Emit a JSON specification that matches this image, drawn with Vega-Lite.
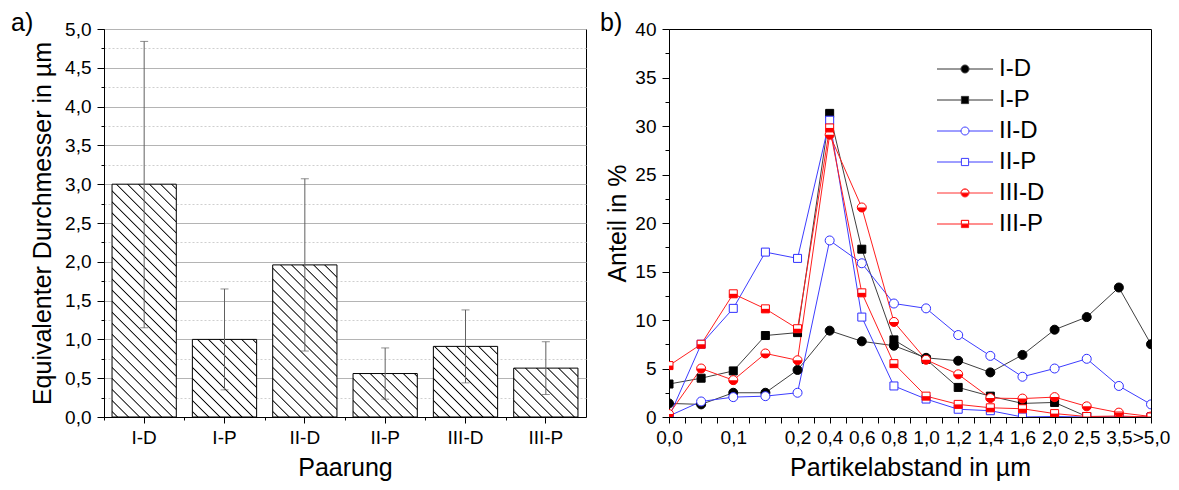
{
"$schema":"https://vega.github.io/schema/vega-lite/v6.json",
"background":"white",
"padding":{"left":10,"top":10,"right":5,"bottom":5},
"config":{
 "font":"Liberation Sans",
 "view":{"stroke":"#000","strokeWidth":1},
 "axis":{"labelFont":"Liberation Sans","titleFont":"Liberation Sans","labelFontSize":19,"titleFontSize":25,"titleFontWeight":"normal","labelColor":"#000","titleColor":"#000","domainColor":"#000","tickColor":"#000","domainWidth":1,"tickWidth":1},
 "title":{"font":"Liberation Sans","fontSize":25,"fontWeight":"normal","color":"#000"}
},
"datasets":{
 "bars":[
  {"Paarung":"I-D","mean":3.0,"lo":1.15,"hi":4.84},
  {"Paarung":"I-P","mean":1.0,"lo":0.35,"hi":1.65},
  {"Paarung":"II-D","mean":1.96,"lo":0.85,"hi":3.07},
  {"Paarung":"II-P","mean":0.56,"lo":0.23,"hi":0.89},
  {"Paarung":"III-D","mean":0.91,"lo":0.44,"hi":1.38},
  {"Paarung":"III-P","mean":0.63,"lo":0.29,"hi":0.97}
 ],
 "dist":[
  {"s":"I-D","i":0,"v":1.4},{"s":"I-D","i":1,"v":1.3},{"s":"I-D","i":2,"v":2.5},{"s":"I-D","i":3,"v":2.5},{"s":"I-D","i":4,"v":4.85},{"s":"I-D","i":5,"v":8.9},{"s":"I-D","i":6,"v":7.8},{"s":"I-D","i":7,"v":7.35},{"s":"I-D","i":8,"v":6.1},{"s":"I-D","i":9,"v":5.8},{"s":"I-D","i":10,"v":4.6},{"s":"I-D","i":11,"v":6.4},{"s":"I-D","i":12,"v":9.0},{"s":"I-D","i":13,"v":10.3},{"s":"I-D","i":14,"v":13.35},{"s":"I-D","i":15,"v":7.5},
  {"s":"I-P","i":0,"v":3.4},{"s":"I-P","i":1,"v":4.0},{"s":"I-P","i":2,"v":4.75},{"s":"I-P","i":3,"v":8.4},{"s":"I-P","i":4,"v":8.7},{"s":"I-P","i":5,"v":31.3},{"s":"I-P","i":6,"v":17.3},{"s":"I-P","i":7,"v":7.95},{"s":"I-P","i":8,"v":5.95},{"s":"I-P","i":9,"v":3.05},{"s":"I-P","i":10,"v":2.15},{"s":"I-P","i":11,"v":1.4},{"s":"I-P","i":12,"v":1.5},{"s":"I-P","i":13,"v":0.05},{"s":"I-P","i":14,"v":0},{"s":"I-P","i":15,"v":0},
  {"s":"II-D","i":0,"v":0.1},{"s":"II-D","i":1,"v":1.6},{"s":"II-D","i":2,"v":2.05},{"s":"II-D","i":3,"v":2.15},{"s":"II-D","i":4,"v":2.5},{"s":"II-D","i":5,"v":18.2},{"s":"II-D","i":6,"v":15.85},{"s":"II-D","i":7,"v":11.7},{"s":"II-D","i":8,"v":11.2},{"s":"II-D","i":9,"v":8.45},{"s":"II-D","i":10,"v":6.3},{"s":"II-D","i":11,"v":4.15},{"s":"II-D","i":12,"v":5.0},{"s":"II-D","i":13,"v":6.0},{"s":"II-D","i":14,"v":3.2},{"s":"II-D","i":15,"v":1.3},
  {"s":"II-P","i":0,"v":0},{"s":"II-P","i":1,"v":7.5},{"s":"II-P","i":2,"v":11.2},{"s":"II-P","i":3,"v":17.0},{"s":"II-P","i":4,"v":16.35},{"s":"II-P","i":5,"v":30.6},{"s":"II-P","i":6,"v":10.3},{"s":"II-P","i":7,"v":3.2},{"s":"II-P","i":8,"v":1.85},{"s":"II-P","i":9,"v":0.8},{"s":"II-P","i":10,"v":0.65},{"s":"II-P","i":11,"v":0},{"s":"II-P","i":12,"v":0.05},{"s":"II-P","i":13,"v":0},{"s":"II-P","i":14,"v":0},{"s":"II-P","i":15,"v":0},
  {"s":"III-D","i":0,"v":0.3},{"s":"III-D","i":1,"v":5.0},{"s":"III-D","i":2,"v":3.8},{"s":"III-D","i":3,"v":6.55},{"s":"III-D","i":4,"v":5.85},{"s":"III-D","i":5,"v":29.1},{"s":"III-D","i":6,"v":21.6},{"s":"III-D","i":7,"v":9.8},{"s":"III-D","i":8,"v":5.9},{"s":"III-D","i":9,"v":4.4},{"s":"III-D","i":10,"v":1.95},{"s":"III-D","i":11,"v":1.9},{"s":"III-D","i":12,"v":2.05},{"s":"III-D","i":13,"v":1.1},{"s":"III-D","i":14,"v":0.45},{"s":"III-D","i":15,"v":0.05},
  {"s":"III-P","i":0,"v":5.3},{"s":"III-P","i":1,"v":7.5},{"s":"III-P","i":2,"v":12.7},{"s":"III-P","i":3,"v":11.15},{"s":"III-P","i":4,"v":9.1},{"s":"III-P","i":5,"v":29.8},{"s":"III-P","i":6,"v":12.8},{"s":"III-P","i":7,"v":5.5},{"s":"III-P","i":8,"v":2.15},{"s":"III-P","i":9,"v":1.3},{"s":"III-P","i":10,"v":0.95},{"s":"III-P","i":11,"v":0.85},{"s":"III-P","i":12,"v":0.35},{"s":"III-P","i":13,"v":0.05},{"s":"III-P","i":14,"v":0.1},{"s":"III-P","i":15,"v":0}
 ]
},
"spacing":83,
"bounds":"flush",
"hconcat":[
 {
  "width":482,"height":388,
  "title":{"text":"a)","anchor":"start","frame":"group","dx":-93,"offset":-36,"baseline":"alphabetic","fontSize":25,"fontWeight":"normal"},
  "data":{"name":"bars"},
  "resolve":{"axis":{"x":"independent"}},
  "layer":[
   {
    "mark":{"type":"bar","stroke":"#000","strokeWidth":1},
    "encoding":{
     "x":{"field":"Paarung","type":"nominal","sort":null,"scale":{"paddingInner":0.2,"paddingOuter":0.1},"axis":{"title":"Paarung","orient":"bottom","labelAngle":0,"tickSize":6,"labelPadding":5,"titlePadding":8,"grid":false}},
     "y":{"field":"mean","type":"quantitative","scale":{"domain":[0,5],"nice":false},"axis":{"title":"Equivalenter Durchmesser in µm","values":[0,0.25,0.5,0.75,1,1.25,1.5,1.75,2,2.25,2.5,2.75,3,3.25,3.5,3.75,4,4.25,4.5,4.75,5],"labelExpr":"datum.value % 0.5 === 0 ? replace(format(datum.value, '.1f'), '.', ',') : ''","labelOverlap":false,"grid":true,"gridColor":{"condition":{"test":"datum.value % 0.5 !== 0","value":"#cfcfcf"},"value":"#b4b4b4"},"gridDash":{"condition":{"test":"datum.value % 0.5 !== 0","value":[2,2]},"value":[]},"tickSize":{"condition":{"test":"datum.value % 0.5 !== 0","value":3},"value":7},"labelPadding":6,"titlePadding":9}},
     "fill":{"condition":[
      {"test":"datum.Paarung === 'I-D'","value":{"gradient":"linear","x1":0,"y1":1,"x2":0.3273,"y2":-0.1857,"stops":[{"offset":0,"color":"#fff"},
       {"offset":0.0143,"color":"#fff"},{"offset":0.0186,"color":"#000"},{"offset":0.0229,"color":"#fff"},
       {"offset":0.0514,"color":"#fff"},{"offset":0.0557,"color":"#000"},{"offset":0.0600,"color":"#fff"},
       {"offset":0.0885,"color":"#fff"},{"offset":0.0928,"color":"#000"},{"offset":0.0971,"color":"#fff"},
       {"offset":0.1257,"color":"#fff"},{"offset":0.1300,"color":"#000"},{"offset":0.1342,"color":"#fff"},
       {"offset":0.1628,"color":"#fff"},{"offset":0.1671,"color":"#000"},{"offset":0.1714,"color":"#fff"},
       {"offset":0.1999,"color":"#fff"},{"offset":0.2042,"color":"#000"},{"offset":0.2085,"color":"#fff"},
       {"offset":0.2371,"color":"#fff"},{"offset":0.2414,"color":"#000"},{"offset":0.2456,"color":"#fff"},
       {"offset":0.2742,"color":"#fff"},{"offset":0.2785,"color":"#000"},{"offset":0.2828,"color":"#fff"},
       {"offset":0.3113,"color":"#fff"},{"offset":0.3156,"color":"#000"},{"offset":0.3199,"color":"#fff"},
       {"offset":0.3485,"color":"#fff"},{"offset":0.3528,"color":"#000"},{"offset":0.3570,"color":"#fff"},
       {"offset":0.3856,"color":"#fff"},{"offset":0.3899,"color":"#000"},{"offset":0.3942,"color":"#fff"},
       {"offset":0.4227,"color":"#fff"},{"offset":0.4270,"color":"#000"},{"offset":0.4313,"color":"#fff"},
       {"offset":0.4599,"color":"#fff"},{"offset":0.4642,"color":"#000"},{"offset":0.4684,"color":"#fff"},
       {"offset":0.4970,"color":"#fff"},{"offset":0.5013,"color":"#000"},{"offset":0.5056,"color":"#fff"},
       {"offset":0.5341,"color":"#fff"},{"offset":0.5384,"color":"#000"},{"offset":0.5427,"color":"#fff"},
       {"offset":0.5713,"color":"#fff"},{"offset":0.5755,"color":"#000"},{"offset":0.5798,"color":"#fff"},
       {"offset":0.6084,"color":"#fff"},{"offset":0.6127,"color":"#000"},{"offset":0.6170,"color":"#fff"},
       {"offset":0.6455,"color":"#fff"},{"offset":0.6498,"color":"#000"},{"offset":0.6541,"color":"#fff"},
       {"offset":0.6827,"color":"#fff"},{"offset":0.6869,"color":"#000"},{"offset":0.6912,"color":"#fff"},
       {"offset":0.7198,"color":"#fff"},{"offset":0.7241,"color":"#000"},{"offset":0.7284,"color":"#fff"},
       {"offset":0.7569,"color":"#fff"},{"offset":0.7612,"color":"#000"},{"offset":0.7655,"color":"#fff"},
       {"offset":0.7941,"color":"#fff"},{"offset":0.7983,"color":"#000"},{"offset":0.8026,"color":"#fff"},
       {"offset":0.8312,"color":"#fff"},{"offset":0.8355,"color":"#000"},{"offset":0.8398,"color":"#fff"},
       {"offset":0.8683,"color":"#fff"},{"offset":0.8726,"color":"#000"},{"offset":0.8769,"color":"#fff"},
       {"offset":0.9055,"color":"#fff"},{"offset":0.9097,"color":"#000"},{"offset":0.9140,"color":"#fff"},
       {"offset":0.9426,"color":"#fff"},{"offset":0.9469,"color":"#000"},{"offset":0.9512,"color":"#fff"},
       {"offset":0.9797,"color":"#fff"},{"offset":0.9840,"color":"#000"},{"offset":0.9883,"color":"#fff"},
       {"offset":1,"color":"#fff"}]}},
      {"test":"datum.Paarung === 'I-P'","value":{"gradient":"linear","x1":0,"y1":1,"x2":0.8981,"y2":-0.0844,"stops":[{"offset":0,"color":"#fff"},
       {"offset":0.0299,"color":"#fff"},{"offset":0.0389,"color":"#000"},{"offset":0.0478,"color":"#fff"},
       {"offset":0.1077,"color":"#fff"},{"offset":0.1166,"color":"#000"},{"offset":0.1256,"color":"#fff"},
       {"offset":0.1854,"color":"#fff"},{"offset":0.1944,"color":"#000"},{"offset":0.2033,"color":"#fff"},
       {"offset":0.2632,"color":"#fff"},{"offset":0.2721,"color":"#000"},{"offset":0.2811,"color":"#fff"},
       {"offset":0.3409,"color":"#fff"},{"offset":0.3499,"color":"#000"},{"offset":0.3589,"color":"#fff"},
       {"offset":0.4187,"color":"#fff"},{"offset":0.4276,"color":"#000"},{"offset":0.4366,"color":"#fff"},
       {"offset":0.4964,"color":"#fff"},{"offset":0.5054,"color":"#000"},{"offset":0.5144,"color":"#fff"},
       {"offset":0.5742,"color":"#fff"},{"offset":0.5831,"color":"#000"},{"offset":0.5921,"color":"#fff"},
       {"offset":0.6519,"color":"#fff"},{"offset":0.6609,"color":"#000"},{"offset":0.6699,"color":"#fff"},
       {"offset":0.7297,"color":"#fff"},{"offset":0.7386,"color":"#000"},{"offset":0.7476,"color":"#fff"},
       {"offset":0.8074,"color":"#fff"},{"offset":0.8164,"color":"#000"},{"offset":0.8254,"color":"#fff"},
       {"offset":0.8852,"color":"#fff"},{"offset":0.8941,"color":"#000"},{"offset":0.9031,"color":"#fff"},
       {"offset":0.9629,"color":"#fff"},{"offset":0.9719,"color":"#000"},{"offset":0.9809,"color":"#fff"},
       {"offset":1,"color":"#fff"}]}},
      {"test":"datum.Paarung === 'II-D'","value":{"gradient":"linear","x1":0,"y1":1,"x2":0.5100,"y2":-0.2070,"stops":[{"offset":0,"color":"#fff"},
       {"offset":0.0196,"color":"#fff"},{"offset":0.0255,"color":"#000"},{"offset":0.0314,"color":"#fff"},
       {"offset":0.0706,"color":"#fff"},{"offset":0.0765,"color":"#000"},{"offset":0.0824,"color":"#fff"},
       {"offset":0.1216,"color":"#fff"},{"offset":0.1275,"color":"#000"},{"offset":0.1333,"color":"#fff"},
       {"offset":0.1726,"color":"#fff"},{"offset":0.1784,"color":"#000"},{"offset":0.1843,"color":"#fff"},
       {"offset":0.2236,"color":"#fff"},{"offset":0.2294,"color":"#000"},{"offset":0.2353,"color":"#fff"},
       {"offset":0.2745,"color":"#fff"},{"offset":0.2804,"color":"#000"},{"offset":0.2863,"color":"#fff"},
       {"offset":0.3255,"color":"#fff"},{"offset":0.3314,"color":"#000"},{"offset":0.3373,"color":"#fff"},
       {"offset":0.3765,"color":"#fff"},{"offset":0.3824,"color":"#000"},{"offset":0.3882,"color":"#fff"},
       {"offset":0.4275,"color":"#fff"},{"offset":0.4333,"color":"#000"},{"offset":0.4392,"color":"#fff"},
       {"offset":0.4785,"color":"#fff"},{"offset":0.4843,"color":"#000"},{"offset":0.4902,"color":"#fff"},
       {"offset":0.5294,"color":"#fff"},{"offset":0.5353,"color":"#000"},{"offset":0.5412,"color":"#fff"},
       {"offset":0.5804,"color":"#fff"},{"offset":0.5863,"color":"#000"},{"offset":0.5922,"color":"#fff"},
       {"offset":0.6314,"color":"#fff"},{"offset":0.6373,"color":"#000"},{"offset":0.6432,"color":"#fff"},
       {"offset":0.6824,"color":"#fff"},{"offset":0.6883,"color":"#000"},{"offset":0.6941,"color":"#fff"},
       {"offset":0.7334,"color":"#fff"},{"offset":0.7392,"color":"#000"},{"offset":0.7451,"color":"#fff"},
       {"offset":0.7843,"color":"#fff"},{"offset":0.7902,"color":"#000"},{"offset":0.7961,"color":"#fff"},
       {"offset":0.8353,"color":"#fff"},{"offset":0.8412,"color":"#000"},{"offset":0.8471,"color":"#fff"},
       {"offset":0.8863,"color":"#fff"},{"offset":0.8922,"color":"#000"},{"offset":0.8981,"color":"#fff"},
       {"offset":0.9373,"color":"#fff"},{"offset":0.9432,"color":"#000"},{"offset":0.9491,"color":"#fff"},
       {"offset":1,"color":"#fff"}]}},
      {"test":"datum.Paarung === 'II-P'","value":{"gradient":"linear","x1":0,"y1":1,"x2":1.1503,"y2":0.2222,"stops":[{"offset":0,"color":"#fff"},
       {"offset":0.0394,"color":"#fff"},{"offset":0.0512,"color":"#000"},{"offset":0.0630,"color":"#fff"},
       {"offset":0.1418,"color":"#fff"},{"offset":0.1536,"color":"#000"},{"offset":0.1654,"color":"#fff"},
       {"offset":0.2442,"color":"#fff"},{"offset":0.2560,"color":"#000"},{"offset":0.2678,"color":"#fff"},
       {"offset":0.3466,"color":"#fff"},{"offset":0.3584,"color":"#000"},{"offset":0.3702,"color":"#fff"},
       {"offset":0.4490,"color":"#fff"},{"offset":0.4608,"color":"#000"},{"offset":0.4726,"color":"#fff"},
       {"offset":0.5514,"color":"#fff"},{"offset":0.5632,"color":"#000"},{"offset":0.5750,"color":"#fff"},
       {"offset":0.6538,"color":"#fff"},{"offset":0.6656,"color":"#000"},{"offset":0.6774,"color":"#fff"},
       {"offset":0.7562,"color":"#fff"},{"offset":0.7680,"color":"#000"},{"offset":0.7798,"color":"#fff"},
       {"offset":0.8586,"color":"#fff"},{"offset":0.8704,"color":"#000"},{"offset":0.8822,"color":"#fff"},
       {"offset":0.9610,"color":"#fff"},{"offset":0.9728,"color":"#000"},{"offset":0.9846,"color":"#fff"},
       {"offset":1,"color":"#fff"}]}},
      {"test":"datum.Paarung === 'III-D'","value":{"gradient":"linear","x1":0,"y1":1,"x2":0.9509,"y2":-0.0448,"stops":[{"offset":0,"color":"#fff"},
       {"offset":0.0315,"color":"#fff"},{"offset":0.0409,"color":"#000"},{"offset":0.0503,"color":"#fff"},
       {"offset":0.1132,"color":"#fff"},{"offset":0.1227,"color":"#000"},{"offset":0.1321,"color":"#fff"},
       {"offset":0.1950,"color":"#fff"},{"offset":0.2044,"color":"#000"},{"offset":0.2139,"color":"#fff"},
       {"offset":0.2768,"color":"#fff"},{"offset":0.2862,"color":"#000"},{"offset":0.2957,"color":"#fff"},
       {"offset":0.3586,"color":"#fff"},{"offset":0.3680,"color":"#000"},{"offset":0.3774,"color":"#fff"},
       {"offset":0.4403,"color":"#fff"},{"offset":0.4498,"color":"#000"},{"offset":0.4592,"color":"#fff"},
       {"offset":0.5221,"color":"#fff"},{"offset":0.5316,"color":"#000"},{"offset":0.5410,"color":"#fff"},
       {"offset":0.6039,"color":"#fff"},{"offset":0.6133,"color":"#000"},{"offset":0.6228,"color":"#fff"},
       {"offset":0.6857,"color":"#fff"},{"offset":0.6951,"color":"#000"},{"offset":0.7046,"color":"#fff"},
       {"offset":0.7675,"color":"#fff"},{"offset":0.7769,"color":"#000"},{"offset":0.7863,"color":"#fff"},
       {"offset":0.8492,"color":"#fff"},{"offset":0.8587,"color":"#000"},{"offset":0.8681,"color":"#fff"},
       {"offset":0.9310,"color":"#fff"},{"offset":0.9405,"color":"#000"},{"offset":0.9499,"color":"#fff"},
       {"offset":1,"color":"#fff"}]}},
      {"test":"datum.Paarung === 'III-P'","value":{"gradient":"linear","x1":0,"y1":1,"x2":1.1153,"y2":0.1516,"stops":[{"offset":0,"color":"#fff"},
       {"offset":0.0375,"color":"#fff"},{"offset":0.0487,"color":"#000"},{"offset":0.0600,"color":"#fff"},
       {"offset":0.1350,"color":"#fff"},{"offset":0.1462,"color":"#000"},{"offset":0.1575,"color":"#fff"},
       {"offset":0.2325,"color":"#fff"},{"offset":0.2437,"color":"#000"},{"offset":0.2549,"color":"#fff"},
       {"offset":0.3299,"color":"#fff"},{"offset":0.3412,"color":"#000"},{"offset":0.3524,"color":"#fff"},
       {"offset":0.4274,"color":"#fff"},{"offset":0.4387,"color":"#000"},{"offset":0.4499,"color":"#fff"},
       {"offset":0.5249,"color":"#fff"},{"offset":0.5362,"color":"#000"},{"offset":0.5474,"color":"#fff"},
       {"offset":0.6224,"color":"#fff"},{"offset":0.6336,"color":"#000"},{"offset":0.6449,"color":"#fff"},
       {"offset":0.7199,"color":"#fff"},{"offset":0.7311,"color":"#000"},{"offset":0.7424,"color":"#fff"},
       {"offset":0.8174,"color":"#fff"},{"offset":0.8286,"color":"#000"},{"offset":0.8398,"color":"#fff"},
       {"offset":0.9148,"color":"#fff"},{"offset":0.9261,"color":"#000"},{"offset":0.9373,"color":"#fff"},
       {"offset":1,"color":"#fff"}]}}
     ],"value":"#fff"}
    }
   },
   {
    "mark":{"type":"rule","color":"#606060","strokeWidth":1},
    "encoding":{
     "x":{"field":"Paarung","type":"nominal","sort":null,"axis":{"orient":"bottom","bandPosition":0,"tickOffset":-8,"labels":false,"domain":false,"title":null,"tickSize":3,"grid":false}},
     "y":{"field":"lo","type":"quantitative","axis":{"title":"Equivalenter Durchmesser in µm","values":[0,0.25,0.5,0.75,1,1.25,1.5,1.75,2,2.25,2.5,2.75,3,3.25,3.5,3.75,4,4.25,4.5,4.75,5],"labelExpr":"datum.value % 0.5 === 0 ? replace(format(datum.value, '.1f'), '.', ',') : ''","labelOverlap":false,"grid":true,"gridColor":{"condition":{"test":"datum.value % 0.5 !== 0","value":"#cfcfcf"},"value":"#b4b4b4"},"gridDash":{"condition":{"test":"datum.value % 0.5 !== 0","value":[2,2]},"value":[]},"tickSize":{"condition":{"test":"datum.value % 0.5 !== 0","value":3},"value":7},"labelPadding":6,"titlePadding":9}},
     "y2":{"field":"hi"}
    }
   },
   {
    "mark":{"type":"tick","color":"#606060","size":8,"thickness":1,"orient":"horizontal"},
    "encoding":{
     "x":{"field":"Paarung","type":"nominal","sort":null,"axis":null},
     "y":{"field":"hi","type":"quantitative","axis":{"title":"Equivalenter Durchmesser in µm","values":[0,0.25,0.5,0.75,1,1.25,1.5,1.75,2,2.25,2.5,2.75,3,3.25,3.5,3.75,4,4.25,4.5,4.75,5],"labelExpr":"datum.value % 0.5 === 0 ? replace(format(datum.value, '.1f'), '.', ',') : ''","labelOverlap":false,"grid":true,"gridColor":{"condition":{"test":"datum.value % 0.5 !== 0","value":"#cfcfcf"},"value":"#b4b4b4"},"gridDash":{"condition":{"test":"datum.value % 0.5 !== 0","value":[2,2]},"value":[]},"tickSize":{"condition":{"test":"datum.value % 0.5 !== 0","value":3},"value":7},"labelPadding":6,"titlePadding":9}}
    }
   },
   {
    "mark":{"type":"tick","color":"#606060","size":8,"thickness":1,"orient":"horizontal"},
    "encoding":{
     "x":{"field":"Paarung","type":"nominal","sort":null,"axis":null},
     "y":{"field":"lo","type":"quantitative","axis":{"title":"Equivalenter Durchmesser in µm","values":[0,0.25,0.5,0.75,1,1.25,1.5,1.75,2,2.25,2.5,2.75,3,3.25,3.5,3.75,4,4.25,4.5,4.75,5],"labelExpr":"datum.value % 0.5 === 0 ? replace(format(datum.value, '.1f'), '.', ',') : ''","labelOverlap":false,"grid":true,"gridColor":{"condition":{"test":"datum.value % 0.5 !== 0","value":"#cfcfcf"},"value":"#b4b4b4"},"gridDash":{"condition":{"test":"datum.value % 0.5 !== 0","value":[2,2]},"value":[]},"tickSize":{"condition":{"test":"datum.value % 0.5 !== 0","value":3},"value":7},"labelPadding":6,"titlePadding":9}}
    }
   }
  ]
 },
 {
  "width":482,"height":388,
  "title":{"text":"b)","anchor":"start","frame":"group","dx":-69,"offset":-36,"baseline":"alphabetic","fontSize":25,"fontWeight":"normal"},
  "data":{"name":"dist"},
  "encoding":{
   "x":{"field":"i","type":"quantitative","scale":{"domain":[0,15],"nice":false,"zero":false},"axis":{"title":"Partikelabstand in µm","values":[0,0.5,1,1.5,2,2.5,3,3.5,4,4.5,5,5.5,6,6.5,7,7.5,8,8.5,9,9.5,10,10.5,11,11.5,12,12.5,13,13.5,14,14.5,15],"labelExpr":"datum.value % 1 === 0 ? ['0,0','','0,1','','0,2','0,4','0,6','0,8','1,0','1,2','1,4','1,6','2,0','2,5','3,5','>5,0'][datum.value] : ''","labelOverlap":false,"labelFlush":false,"labelBound":false,"tickSize":6,"labelPadding":5,"titlePadding":8,"grid":false}},
   "y":{"field":"v","type":"quantitative","scale":{"domain":[0,40],"nice":false},"axis":{"title":"Anteil in %","values":[0,2.5,5,7.5,10,12.5,15,17.5,20,22.5,25,27.5,30,32.5,35,37.5,40],"labelExpr":"datum.value % 5 === 0 ? datum.label : ''","labelOverlap":false,"tickSize":{"condition":{"test":"datum.value % 5 !== 0","value":4},"value":7},"labelPadding":6,"titlePadding":4,"grid":false}}
  },
  "layer":[
   {
    "mark":{"type":"line","strokeWidth":1,"clip":true},
    "encoding":{
     "detail":{"field":"s","type":"nominal"},
     "stroke":{"condition":[{"test":"datum.s === 'I-D' || datum.s === 'I-P'","value":"#404040"},{"test":"datum.s === 'II-D' || datum.s === 'II-P'","value":"#3d3dff"}],"value":"#ff1f1f"}
    }
   },
   {
    "mark":{"type":"point","opacity":1,"strokeWidth":1,"clip":true},
    "encoding":{
     "shape":{"condition":{"test":"datum.s === 'I-D' || datum.s === 'II-D' || datum.s === 'III-D'","value":"circle"},"value":"square"},
     "size":{"condition":{"test":"datum.s === 'I-D' || datum.s === 'II-D' || datum.s === 'III-D'","value":81},"value":64},
     "stroke":{"condition":[{"test":"datum.s === 'I-D' || datum.s === 'I-P'","value":"#000"},{"test":"datum.s === 'II-D' || datum.s === 'II-P'","value":"#2f2fff"}],"value":"#ff0000"},
     "fill":{"condition":{"test":"datum.s === 'I-D' || datum.s === 'I-P'","value":"#000"},"value":"#fff"}
    }
   },
   {
    "transform":[{"filter":"datum.s === 'III-D' || datum.s === 'III-P'"}],
    "mark":{"type":"point","opacity":1,"strokeWidth":0,"filled":true,"clip":true},
    "encoding":{
     "shape":{"condition":{"test":"datum.s === 'III-D'","value":"M-1,0A1,1,0,0,0,1,0Z"},"value":"M-1,0L1,0L1,1L-1,1Z"},
     "size":{"condition":{"test":"datum.s === 'III-D'","value":81},"value":64},
     "fill":{"value":"#ff0000"}
    }
   },
   {
    "transform":[{"filter":"false"}],
    "mark":{"type":"point","opacity":1,"strokeWidth":1},
    "encoding":{
     "stroke":{"field":"s","type":"nominal","scale":{"domain":["I-D","I-P","II-D","II-P","III-D","III-P"],"range":["#333333","#333333","#3d3dff","#3d3dff","#ff3030","#ff1f1f"]},"legend":{"title":null,"orient":"none","legendX":849,"legendY":28,"labelFontSize":24,"labelFont":"Liberation Sans","labelColor":"#000","symbolSize":64,"symbolStrokeWidth":1,"labelOffset":22,"rowPadding":7,"padding":0,"labelLimit":0}},
     "fill":{"field":"s","type":"nominal","scale":{"domain":["I-D","I-P","II-D","II-P","III-D","III-P"],"range":["#000000","#000000","#ffffff","#ffffff","#ff0000","#ff0000"]}},
     "shape":{"field":"s","type":"nominal","scale":{"domain":["I-D","I-P","II-D","II-P","III-D","III-P"],"range":[
      "M-7,0L-1,0M1,0L7,0M-1,0A1,1,0,1,1,1,0A1,1,0,1,1,-1,0Z",
      "M-7,0L-0.9,0M0.9,0L7,0M-0.9,-0.9L0.9,-0.9L0.9,0.9L-0.9,0.9Z",
      "M-7,0L-1,0M1,0L7,0M-1,0A1,1,0,1,1,1,0A1,1,0,1,1,-1,0Z",
      "M-7,0L-0.9,0M0.9,0L7,0M-0.9,-0.9L0.9,-0.9L0.9,0.9L-0.9,0.9Z",
      "M-7,0L-1,0M1,0L7,0M-1,0A1,1,0,0,0,1,0ZM-1,0A1,1,0,0,1,1,0A1,1,0,0,0,-1,0",
      "M-7,0L-0.9,0M0.9,0L7,0M-0.9,0L0.9,0L0.9,0.9L-0.9,0.9ZM-0.9,0L-0.9,-0.9L0.9,-0.9L0.9,0L0.9,-0.9L-0.9,-0.9Z"]}}
    }
   }
  ]
 }
]
}
